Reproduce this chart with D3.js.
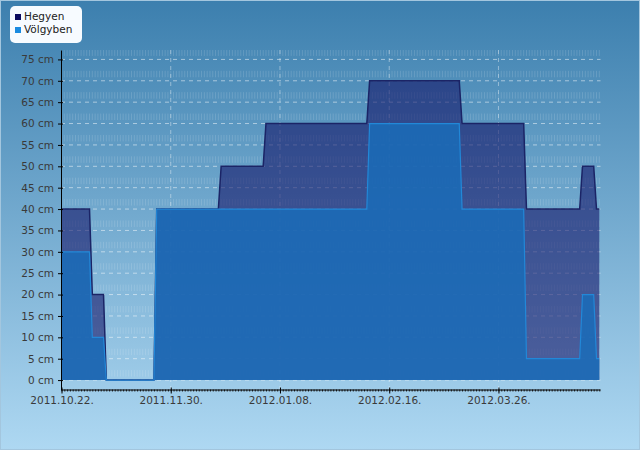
<!DOCTYPE html>
<html>
<head>
<meta charset="utf-8">
<title>Hegyen / Völgyben</title>
<script src="https://d3js.org/d3.v7.min.js"></script>
<style>
  body { margin: 0; }
  svg { font-family: "DejaVu Sans", sans-serif; display: block; }
</style>
</head>
<body>
<script>
var w = 640, h = 450;

// breakpoints of the two step series (values held between neighbouring dates)
var dates = ["2011-10-22", "2011-11-01", "2011-11-02", "2011-11-06", "2011-11-07",
             "2011-11-24", "2011-11-25", "2011-12-17", "2011-12-18", "2012-01-02",
             "2012-01-03", "2012-02-08", "2012-02-09", "2012-03-12", "2012-03-13",
             "2012-04-04", "2012-04-05", "2012-04-24", "2012-04-25", "2012-04-29",
             "2012-04-30", "2012-05-01"];
var hegyen   = [40, 40, 20, 20, 0, 0, 40, 40, 50, 50, 60, 60, 70, 70, 60, 60, 40, 40, 50, 50, 40, 40];
var volgyben = [30, 30, 10, 10, 0, 0, 40, 40, 40, 40, 40, 40, 60, 60, 40, 40, 5, 5, 20, 20, 5, 5];

var seriesNames = ["Hegyen", "Völgyben"];
var tickDates = ["2011-10-22", "2011-11-30", "2012-01-08", "2012-02-16", "2012-03-26"];
var yTicks = [0, 5, 10, 15, 20, 25, 30, 35, 40, 45, 50, 55, 60, 65, 70, 75];

var parse = d3.utcParse("%Y-%m-%d");
var fmt = d3.utcFormat("%Y.%m.%d.");

var dDates = dates.map(parse);
var dataH = dDates.map(function(d, i){ return {date: d, v: hegyen[i]}; });
var dataV = dDates.map(function(d, i){ return {date: d, v: volgyben[i]}; });

var pLeft = 61, pTop = 50, pBottom = 389.5, pRight = 600.5;

var x = d3.scaleUtc()
  .domain([dDates[0], dDates[dDates.length - 1]])
  .range([61.5, 599.3]);
var y = d3.scaleLinear()
  .domain([-2.2, 77.2])
  .range([pBottom, pTop]);

var svg = d3.select("body").append("svg")
  .attr("width", w).attr("height", h);

var defs = svg.append("defs");
var grad = defs.append("linearGradient")
  .attr("id", "bg").attr("x1", 0).attr("y1", 0).attr("x2", 0).attr("y2", 1);
grad.append("stop").attr("offset", "0%").attr("stop-color", "#3c7fae");
grad.append("stop").attr("offset", "100%").attr("stop-color", "#aed8f2");

svg.append("rect")
  .attr("x", 0.5).attr("y", 0.5).attr("width", w - 1).attr("height", h - 1)
  .attr("fill", "url(#bg)").attr("stroke", "#a3c6de");

// daily stripe texture
var step = y(0) - y(5);
var days = d3.utcDay.range(dDates[0], d3.utcDay.offset(dDates[dDates.length - 1], 1));
var off = ((pTop - (y(75) - 10)) % step + step) % step;
svg.append("g").selectAll("line")
  .data(days).enter().append("line")
  .attr("x1", function(d){ return x(d); }).attr("x2", function(d){ return x(d); })
  .attr("y1", pTop).attr("y2", pBottom)
  .attr("stroke", "#ffffff").attr("stroke-opacity", 0.14)
  .attr("stroke-dasharray", "6.5," + (step - 6.5))
  .attr("stroke-dashoffset", off);

// grid
svg.append("g").selectAll("line")
  .data(yTicks).enter().append("line")
  .attr("x1", pLeft).attr("x2", pRight)
  .attr("y1", function(d){ return y(d); }).attr("y2", function(d){ return y(d); })
  .attr("stroke", "#ffffff").attr("stroke-opacity", 0.5)
  .attr("stroke-dasharray", "4,4");
svg.append("g").selectAll("line")
  .data(tickDates.slice(1)).enter().append("line")
  .attr("x1", function(d){ return x(parse(d)); }).attr("x2", function(d){ return x(parse(d)); })
  .attr("y1", pTop).attr("y2", pBottom)
  .attr("stroke", "#ffffff").attr("stroke-opacity", 0.4)
  .attr("stroke-dasharray", "4,4");

// areas
var area = d3.area()
  .x(function(d){ return x(d.date); })
  .y0(y(0))
  .y1(function(d){ return y(d.v); });
var line = d3.line()
  .x(function(d){ return x(d.date); })
  .y(function(d){ return y(d.v); });

svg.append("path").datum(dataH)
  .attr("d", area).attr("fill", "#121266").attr("fill-opacity", 0.58);
svg.append("path").datum(dataH)
  .attr("d", line).attr("fill", "none").attr("stroke", "#1b2466").attr("stroke-width", 1.5);

svg.append("path").datum(dataV)
  .attr("d", area).attr("fill", "#1a6cb8").attr("fill-opacity", 0.85);
svg.append("path").datum(dataV)
  .attr("d", line).attr("fill", "none").attr("stroke", "#2288d8").attr("stroke-width", 1.2);

// axes
var xAxisMinor = d3.axisBottom(x).tickValues(days).tickFormat("").tickSize(2).tickSizeOuter(0);
svg.append("g").attr("transform", "translate(0," + pBottom + ")")
  .call(xAxisMinor)
  .call(function(g){ g.select(".domain").remove(); g.selectAll("line").attr("stroke", "#222"); });

var xAxis = d3.axisBottom(x)
  .tickValues(tickDates.map(parse))
  .tickFormat(fmt)
  .tickSize(4).tickSizeOuter(0).tickPadding(3);
var gx = svg.append("g").attr("transform", "translate(0," + pBottom + ")").call(xAxis);
gx.select(".domain").attr("d", "M" + pLeft + ",0.5H" + pRight).attr("stroke", "#000");
gx.selectAll(".tick line").attr("y1", -2).attr("stroke", "#000");
gx.selectAll("text").attr("fill", "#3a3a3a").attr("font-size", "10.5px")
  .attr("font-family", "DejaVu Sans, sans-serif");

var yAxis = d3.axisLeft(y)
  .tickValues(yTicks)
  .tickFormat(function(d){ return d + " cm"; })
  .tickSize(3).tickSizeOuter(0).tickPadding(4);
var gy = svg.append("g").attr("transform", "translate(" + pLeft + ",0)").call(yAxis);
gy.select(".domain").attr("stroke", "#000");
gy.selectAll(".tick line").attr("x1", 2).attr("stroke", "#000");
gy.selectAll("text").attr("fill", "#3a3a3a").attr("font-size", "10.5px")
  .attr("font-family", "DejaVu Sans, sans-serif");

// legend
var legendColors = ["#0b0b5e", "#1a8be0"];
var lg = svg.append("g");
lg.append("rect").attr("x", 10).attr("y", 6).attr("width", 72).attr("height", 37)
  .attr("rx", 5).attr("fill", "#f7fbff");
lg.selectAll("rect.sw").data(seriesNames).enter().append("rect")
  .attr("class", "sw")
  .attr("x", 15).attr("y", function(d, i){ return 14 + i * 13; })
  .attr("width", 6).attr("height", 6)
  .attr("fill", function(d, i){ return legendColors[i]; });
lg.selectAll("text").data(seriesNames).enter().append("text")
  .attr("x", 24).attr("y", function(d, i){ return 20 + i * 13; })
  .attr("font-size", "10.5px").attr("fill", "#222")
  .text(function(d){ return d; });
</script>
</body>
</html>
